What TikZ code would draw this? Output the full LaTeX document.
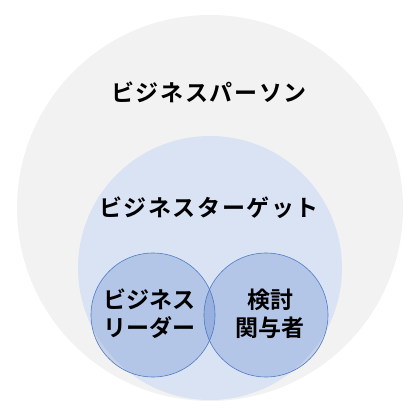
\documentclass[tikz,border=0pt]{standalone}
\usepackage{fontspec}
\newfontfamily\jpfont{Noto Sans CJK JP}[BoldFont={Noto Sans CJK JP Bold}]
\newfontfamily\jpwide{Noto Sans CJK JP}[BoldFont={Noto Sans CJK JP Bold},LetterSpace=7]
\definecolor{persongray}{HTML}{F2F2F2}
\definecolor{targetblue}{HTML}{DAE3F3}
\definecolor{leaderblue}{HTML}{4472C4}
\tikzset{
  grouplabel/.style={font=\jpwide\bfseries\fontsize{23}{28}\selectfont},
  innerlabel/.style={font=\jpfont\bfseries\fontsize{23}{28}\selectfont, align=center},
  innercircle/.style={fill=leaderblue, fill opacity=.25, draw=leaderblue, draw opacity=.9, line width=.6pt}
}
\begin{document}
\begin{tikzpicture}[x=1pt,y=-1pt]
		\useasboundingbox (0,0) rectangle (420,420);
		\fill[persongray] (210,208) circle (193);
		\fill[targetblue] (210,268) circle (132);
		\filldraw[innercircle] (153,315) circle (62);
		\filldraw[innercircle] (266,315) circle (62);
		
		\node[grouplabel] (person) at (209,92) {ビジネスパーソン};
		\node[grouplabel] (target) at (209,208) {ビジネスターゲット};
		\node[innerlabel] (leader) at (149,314) {ビジネス\\リーダー};
		\node[innerlabel] (review) at (270,314) {検討\\関与者};
	\end{tikzpicture}
\end{document}
